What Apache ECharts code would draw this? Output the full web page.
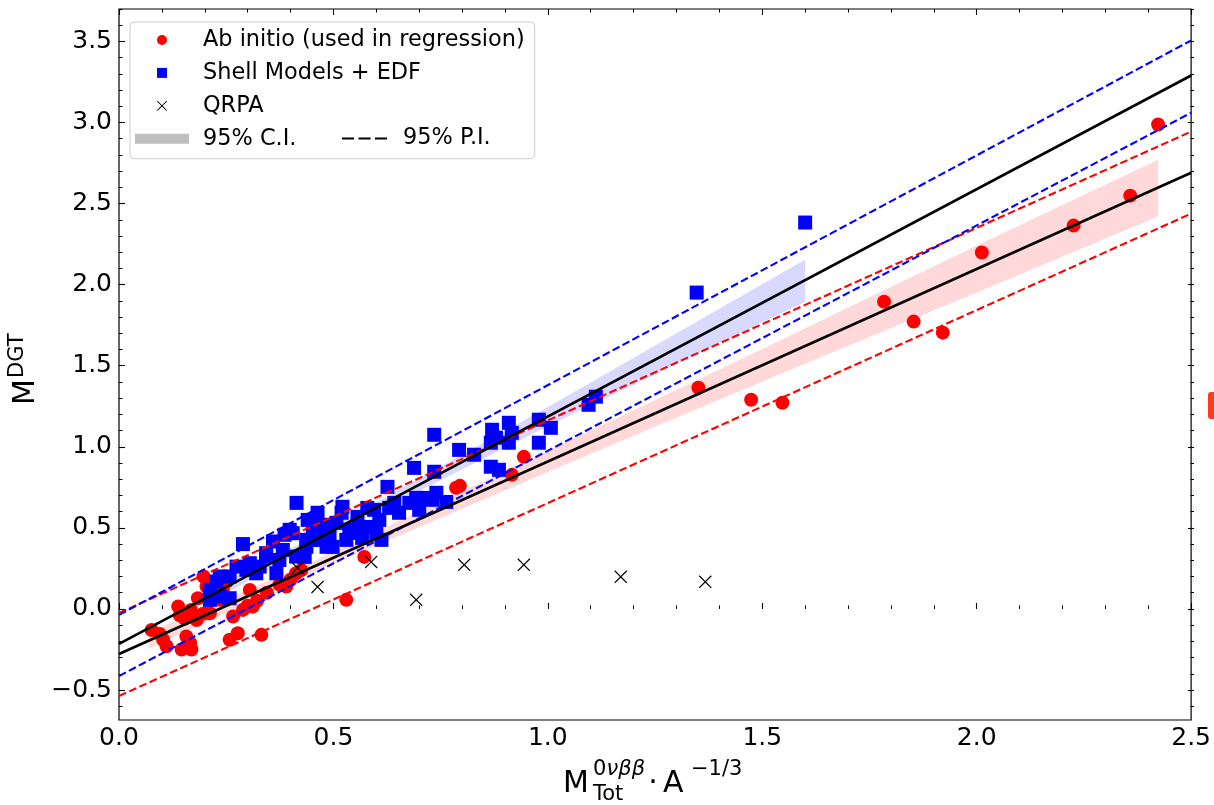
<!DOCTYPE html>
<html><head><meta charset="utf-8">
<script src="https://cdn.jsdelivr.net/npm/echarts@6/dist/echarts.min.js"></script>
<style>html,body{margin:0;padding:0;background:#fff;}#c{width:1214px;height:805px;}</style>
</head><body><div id="c"></div>
<script>
// ---------- data ----------
const abInitio = [[0.076,-0.13],[0.095,-0.155],[0.103,-0.19],[0.111,-0.23],[0.138,0.015],[0.142,-0.04],[0.153,-0.06],[0.157,-0.17],[0.146,-0.25],[0.169,-0.25],[0.166,-0.21],[0.184,0.066],[0.181,-0.068],[0.168,-0.006],[0.196,-0.03],[0.204,0.138],[0.197,0.20],[0.212,-0.027],[0.222,0.09],[0.236,0.056],[0.242,0.12],[0.252,0.17],[0.258,-0.19],[0.277,-0.15],[0.266,-0.047],[0.289,-0.006],[0.300,0.02],[0.312,0.014],[0.332,-0.16],[0.305,0.117],[0.322,0.05],[0.345,0.10],[0.374,0.15],[0.39,0.138],[0.40,0.18],[0.413,0.22],[0.425,0.24],[0.53,0.056],[0.572,0.321],[0.786,0.747],[0.795,0.759],[0.916,0.827],[0.944,0.938],[1.351,1.364],[1.474,1.29],[1.547,1.272],[1.784,1.895],[1.853,1.772],[1.921,1.704],[2.012,2.198],[2.226,2.364],[2.358,2.549],[2.423,2.988]];
const shellEdf = [[1.60,2.383],[1.347,1.951],[1.112,1.309],[1.095,1.259],[1.007,1.117],[0.979,1.167],[0.979,1.025],[0.909,1.148],[0.916,1.086],[0.870,1.105],[0.879,1.056],[0.867,1.025],[0.909,1.025],[0.828,0.951],[0.793,0.981],[0.735,1.074],[0.867,0.877],[0.886,0.858],[0.688,0.870],[0.735,0.846],[0.626,0.753],[0.740,0.716],[0.763,0.660],[0.730,0.673],[0.716,0.685],[0.693,0.685],[0.677,0.654],[0.700,0.611],[0.642,0.654],[0.630,0.623],[0.653,0.593],[0.595,0.611],[0.607,0.549],[0.579,0.623],[0.584,0.506],[0.600,0.469],[0.612,0.426],[0.556,0.568],[0.560,0.506],[0.521,0.630],[0.519,0.593],[0.537,0.488],[0.553,0.469],[0.567,0.438],[0.507,0.531],[0.491,0.444],[0.474,0.506],[0.463,0.593],[0.451,0.549],[0.467,0.426],[0.484,0.383],[0.449,0.426],[0.437,0.383],[0.433,0.321],[0.498,0.383],[0.530,0.426],[0.414,0.654],[0.386,0.457],[0.440,0.549],[0.479,0.519],[0.289,0.400],[0.359,0.416],[0.405,0.467],[0.398,0.488],[0.452,0.508],[0.258,0.066],[0.235,0.200],[0.212,0.117],[0.227,0.169],[0.274,0.261],[0.305,0.282],[0.320,0.220],[0.343,0.323],[0.382,0.364],[0.413,0.323],[0.367,0.220],[0.235,0.076],[0.212,0.056],[0.374,0.302],[0.328,0.261],[0.297,0.241],[0.258,0.200],[0.343,0.344],[0.437,0.426],[0.212,0.097]];
const qrpa = [[0.416,0.253],[0.463,0.136],[0.588,0.290],[0.693,0.056],[0.805,0.272],[0.944,0.272],[1.170,0.198],[1.367,0.167]];

// confidence bands
const redCIx  = [0.07, 0.45, 1.0, 1.5, 2.0, 2.423];
const redCIlo = [-0.245, 0.221, 0.844, 1.403, 1.951, 2.42];
const redCIhi = [-0.145, 0.291, 0.974, 1.603, 2.241, 2.77];
const blueCIx  = [0.2, 0.5, 1.0, 1.60];
const blueCIlo = [0.024, 0.46, 1.126, 1.895];
const blueCIhi = [0.104, 0.51, 1.246, 2.155];

// regression lines and prediction intervals
const redFit   = [[0,-0.278],[2.5,2.69]];
const blueFit  = [[0,-0.216],[2.5,3.29]];
const redPIup  = [[0,-0.025],[2.5,2.944]];
const redPIlo  = [[0,-0.537],[2.5,2.438]];
const bluePIup = [[0,-0.037],[2.5,3.506]];
const bluePIlo = [[0,-0.414],[2.5,3.06]];

// ticks
const xTickLabels = ['0.0','0.5','1.0','1.5','2.0','2.5'];
const yTickLabels = ['\u22120.5','0.0','0.5','1.0','1.5','2.0','2.5','3.0','3.5'];

// ---------- chart ----------
const FONT = '"DejaVu Sans", sans-serif';
const XPATH = 'path://M0,0.8L0.8,0L6,5.2L11.2,0L12,0.8L6.8,6L12,11.2L11.2,12L6,6.8L0.8,12L0,11.2L5.2,6Z';
const chart = echarts.init(document.getElementById('c'), null, {renderer:'canvas'});

function band(name, xs, lo, hi, color) {
  return {
    type:'custom', name, xAxisIndex:0, yAxisIndex:0, z:1, silent:true,
    itemStyle:{color},
    data:[[xs[0], lo[0]]],
    renderItem(params, api) {
      const pts = [];
      for (let i = 0; i < xs.length; i++) pts.push(api.coord([xs[i], hi[i]]));
      for (let i = xs.length - 1; i >= 0; i--) pts.push(api.coord([xs[i], lo[i]]));
      return {type:'polygon', shape:{points:pts}, style:{fill:color}};
    }
  };
}
function line(name, data, color, width, dashed) {
  return {
    type:'line', name, data, xAxisIndex:0, yAxisIndex:0, z:6, silent:true,
    showSymbol:false, symbol:'none', clip:true,
    lineStyle:{color, width, type: dashed ? [7.8, 3.4] : 'solid'},
    itemStyle:{color}
  };
}
const tickCommon = {inside:true, lineStyle:{color:'#000', width:1.1}};

const option = {
  animation:false,
  backgroundColor:'#fff',
  grid:[
    {left:119, right:20, top:9, bottom:85, show:true, borderColor:'#000', borderWidth:1.2, backgroundColor:'transparent'},
    {left:119, right:20, top:41.43, bottom:115.0},
    {left:119, right:20, top:9, bottom:98.8}
  ],
  xAxis:[
    {gridIndex:0, type:'value', position:'bottom', min:0, max:2.5, interval:0.5,
     axisLine:{show:false}, splitLine:{show:false},
     axisTick:Object.assign({length:6}, tickCommon),
     minorTick:{show:true, splitNumber:5, length:3.5, lineStyle:{color:'#000', width:1}},
     axisLabel:{fontSize:25, fontFamily:FONT, color:'#000', margin:6,
       formatter:v => xTickLabels[Math.round(v/0.5)] ?? ''}},
    {gridIndex:0, type:'value', position:'top', min:0, max:2.5, interval:0.5,
     axisLine:{show:false}, splitLine:{show:false}, axisLabel:{show:false},
     axisTick:Object.assign({length:6}, tickCommon),
     minorTick:{show:true, splitNumber:5, length:3.5, lineStyle:{color:'#000', width:1}}},
    {gridIndex:1, type:'value', min:0, max:2.5, show:false},
    {gridIndex:2, type:'value', min:0, max:2.5, show:false}
  ],
  yAxis:[
    {gridIndex:0, type:'value', min:-0.685, max:3.70, axisLine:{show:false}, axisTick:{show:false},
     axisLabel:{show:false}, splitLine:{show:false}},
    {gridIndex:1, type:'value', position:'left', min:-0.5, max:3.5, interval:0.5,
     axisLine:{show:false}, splitLine:{show:false},
     axisTick:Object.assign({length:6}, tickCommon),
     axisLabel:{fontSize:25, fontFamily:FONT, color:'#000', margin:7,
       formatter:v => yTickLabels[Math.round((v+0.5)/0.5)] ?? ''}},
    {gridIndex:1, type:'value', position:'right', min:-0.5, max:3.5, interval:0.5,
     axisLine:{show:false}, splitLine:{show:false}, axisLabel:{show:false},
     axisTick:Object.assign({length:6}, tickCommon)},
    {gridIndex:2, type:'value', position:'left', min:-0.6, max:3.7, interval:0.1,
     axisLine:{show:false}, splitLine:{show:false}, axisLabel:{show:false},
     axisTick:{inside:true, length:3.5, lineStyle:{color:'#000', width:1}}},
    {gridIndex:2, type:'value', position:'right', min:-0.6, max:3.7, interval:0.1,
     axisLine:{show:false}, splitLine:{show:false}, axisLabel:{show:false},
     axisTick:{inside:true, length:3.5, lineStyle:{color:'#000', width:1}}}
  ],
  legend:[
    {orient:'vertical', left:130, top:22, padding:[7,10,9,5],
     itemWidth:54, itemHeight:10, itemGap:10.9, symbolKeepAspect:true,
     backgroundColor:'rgba(255,255,255,0.8)', borderColor:'#cccccc', borderWidth:1, borderRadius:4,
     textStyle:{fontSize:22.4, fontFamily:FONT, color:'#000', lineHeight:22, padding:[0,0,0,9]},
     selectedMode:false, z:20,
     data:[
       {name:'Ab initio (used in regression)', icon:'circle', itemStyle:{color:'#ff0000', borderWidth:0}},
       {name:'Shell Models + EDF', icon:'path://M0,0h10v10h-10z', itemStyle:{color:'#0000ff', borderWidth:0}},
       {name:'QRPA', icon:XPATH, itemStyle:{color:'#000', borderWidth:0}},
       {name:'95% C.I.', icon:'rect', itemStyle:{color:'#bfbfbf', borderWidth:0}}
     ]},
    {orient:'horizontal', left:342, top:127.6, padding:0,
     itemWidth:45, itemHeight:2, symbolKeepAspect:true,
     textStyle:{fontSize:22.4, fontFamily:FONT, color:'#000', lineHeight:22, padding:[0,0,0,11]},
     selectedMode:false, z:21,
     data:[
       {name:'95% P.I.', icon:'path://M0,0h12v2h-12zM16.5,0h12v2h-12zM33,0h12v2h-12z', itemStyle:{color:'#000', borderWidth:0}}
     ]}
  ],
  series:[
    band('95% C.I.', redCIx, redCIlo, redCIhi, 'rgba(255,0,0,0.15)'),
    band('95% C.I.', blueCIx, blueCIlo, blueCIhi, 'rgba(0,0,255,0.15)'),
    {type:'scatter', name:'Ab initio (used in regression)', data:abInitio, xAxisIndex:0, yAxisIndex:0, z:3,
     symbol:'circle', symbolSize:14, itemStyle:{color:'#ff0000', opacity:1}},
    {type:'scatter', name:'Shell Models + EDF', data:shellEdf, xAxisIndex:0, yAxisIndex:0, z:4,
     symbol:'rect', symbolSize:14, itemStyle:{color:'#0000ff', opacity:1}},
    {type:'scatter', name:'QRPA', data:qrpa, xAxisIndex:0, yAxisIndex:0, z:5,
     symbol:XPATH, symbolSize:13, itemStyle:{color:'#000', opacity:1}},
    line('95% P.I.', redPIup, '#ff0000', 2.1, true),
    line('95% P.I.', redPIlo, '#ff0000', 2.1, true),
    line('95% P.I.', bluePIup, '#0000ff', 2.1, true),
    line('95% P.I.', bluePIlo, '#0000ff', 2.1, true),
    line('fit', redFit, '#000', 2.6, false),
    line('fit', blueFit, '#000', 2.6, false)
  ],
  graphic:[
    // x-axis title: M^{0νββ}_{Tot} · A^{-1/3}
    {type:'text', x:563, y:784.6, style:{text:'M', font:'30px '+FONT, fill:'#000', textVerticalAlign:'middle'}},
    {type:'text', x:593, y:769.7, style:{text:'0', font:'21px '+FONT, fill:'#000', textVerticalAlign:'middle'}},
    {type:'text', x:606.5, y:769.7, style:{text:'\u03bd\u03b2\u03b2', font:'italic 21px '+FONT, fill:'#000', textVerticalAlign:'middle'}},
    {type:'text', x:593, y:794.5, style:{text:'Tot', font:'21px '+FONT, fill:'#000', textVerticalAlign:'middle'}},
    {type:'text', x:653, y:784.6, style:{text:'\u00b7', font:'30px '+FONT, fill:'#000', textAlign:'center', textVerticalAlign:'middle'}},
    {type:'text', x:663, y:784.6, style:{text:'A', font:'30px '+FONT, fill:'#000', textVerticalAlign:'middle'}},
    {type:'text', x:691, y:769.7, style:{text:'\u22121/3', font:'21px '+FONT, fill:'#000', textVerticalAlign:'middle'}},
    // y-axis title: M^{DGT}
    {type:'group', x:37, y:405, rotation:Math.PI/2, children:[
      {type:'text', x:0, y:-10.4, style:{text:'M', font:'30px '+FONT, fill:'#000', textVerticalAlign:'middle'}},
      {type:'text', x:27, y:-19.3, style:{text:'DGT', font:'21px '+FONT, fill:'#000', textVerticalAlign:'middle'}}
    ]},
    // cut-off mark at the right edge
    {type:'rect', shape:{x:1208, y:392, width:14, height:27, r:3}, style:{fill:'#ff3b1a'}}
  ]
};
chart.setOption(option);
</script></body></html>
